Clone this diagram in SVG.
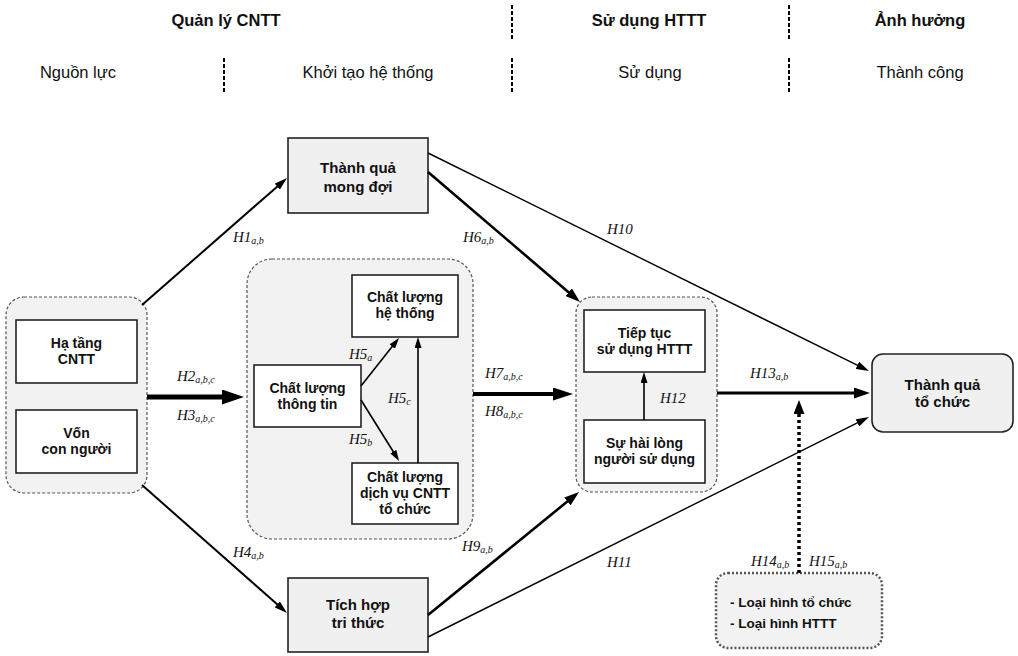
<svg xmlns="http://www.w3.org/2000/svg" width="1018" height="656" viewBox="0 0 1018 656">
<style>
.hd{font-family:"Liberation Sans",Arial,sans-serif;font-size:16.5px;font-weight:bold;fill:#111;text-anchor:middle}
.sh{font-family:"Liberation Sans",Arial,sans-serif;font-size:16.5px;fill:#111;text-anchor:middle}
.sep{stroke:#000;stroke-width:2;stroke-dasharray:4,2}
.grp{fill:#f2f2f2;stroke:#555;stroke-width:1.2;stroke-dasharray:3,2}
.box{fill:#fff;stroke:#222;stroke-width:1.6}
.gbox{fill:#f0f0f0;stroke:#222;stroke-width:1.6}
.nt{font-family:"Liberation Sans",Arial,sans-serif;font-size:14px;font-weight:bold;fill:#111;text-anchor:middle}
.bt{font-family:"Liberation Sans",Arial,sans-serif;font-size:15px;font-weight:bold;fill:#111;text-anchor:middle}
.lt{font-family:"Liberation Sans",Arial,sans-serif;font-size:13.5px;font-weight:bold;fill:#111}
.lb{font-family:"Liberation Serif","Times New Roman",serif;font-size:15px;font-style:italic;fill:#111}
.sub{font-size:10px}
.e{fill:none;stroke:#000}
</style>
<defs>
<marker id="a1" markerUnits="userSpaceOnUse" markerWidth="13" markerHeight="8" refX="1" refY="4" orient="auto"><path d="M0,0 L13,4 L0,8 z" fill="#000"/></marker>
<marker id="a2" markerUnits="userSpaceOnUse" markerWidth="15" markerHeight="10" refX="1" refY="5" orient="auto"><path d="M0,0 L15,5 L0,10 z" fill="#000"/></marker>
<marker id="a3" markerUnits="userSpaceOnUse" markerWidth="11" markerHeight="7" refX="1" refY="3.5" orient="auto"><path d="M0,0 L11,3.5 L0,7 z" fill="#000"/></marker>
<marker id="aT" markerUnits="userSpaceOnUse" markerWidth="22" markerHeight="15" refX="1" refY="7.5" orient="auto"><path d="M0,0 L22,7.5 L0,15 z" fill="#000"/></marker>
<marker id="aM" markerUnits="userSpaceOnUse" markerWidth="20" markerHeight="13" refX="1" refY="6.5" orient="auto"><path d="M0,0 L20,6.5 L0,13 z" fill="#000"/></marker>
<marker id="aH" markerUnits="userSpaceOnUse" markerWidth="16" markerHeight="11" refX="1" refY="5.5" orient="auto"><path d="M0,0 L16,5.5 L0,11 z" fill="#000"/></marker>
<marker id="aD" markerUnits="userSpaceOnUse" markerWidth="14" markerHeight="11" refX="1" refY="5.5" orient="auto"><path d="M0,0 L14,5.5 L0,11 z" fill="#000"/></marker>
</defs>

<g id="header">
<text class="hd" x="226" y="26">Quản lý CNTT</text>
<text class="hd" x="649" y="26">Sử dụng HTTT</text>
<text class="hd" x="920" y="26">Ảnh hưởng</text>
<text class="sh" x="78" y="78">Nguồn lực</text>
<text class="sh" x="368" y="78">Khởi tạo hệ thống</text>
<text class="sh" x="650" y="78">Sử dụng</text>
<text class="sh" x="920" y="78">Thành công</text>
<line class="sep" x1="512" y1="5" x2="512" y2="40"/>
<line class="sep" x1="789" y1="5" x2="789" y2="40"/>
<line class="sep" x1="224" y1="58" x2="224" y2="92"/>
<line class="sep" x1="512" y1="58" x2="512" y2="92"/>
<line class="sep" x1="789" y1="58" x2="789" y2="92"/>
</g>

<g id="group-nguon-luc">
<rect class="grp" x="6" y="297" width="141" height="196" rx="18"/>
</g>
<g id="group-khoi-tao">
<rect class="grp" x="247" y="259" width="226" height="280" rx="25"/>
</g>
<g id="group-su-dung">
<rect class="grp" x="576" y="297" width="141" height="195" rx="16"/>
</g>

<g id="node-ha-tang">
<rect class="box" x="16" y="320" width="121" height="63"/>
<text class="nt" x="76.5" y="348">Hạ tầng</text>
<text class="nt" x="76.5" y="364">CNTT</text>
</g>
<g id="node-von">
<rect class="box" x="16" y="410" width="121" height="63"/>
<text class="nt" x="76.5" y="438">Vốn</text>
<text class="nt" x="76.5" y="454">con người</text>
</g>
<g id="node-thanh-qua-mong-doi">
<rect class="gbox" x="288" y="138" width="140" height="75"/>
<text class="bt" x="358" y="173">Thành quả</text>
<text class="bt" x="358" y="192">mong đợi</text>
</g>
<g id="node-cl-he-thong">
<rect class="box" x="352" y="275" width="106" height="62"/>
<text class="nt" x="405" y="302">Chất lượng</text>
<text class="nt" x="405" y="318">hệ thống</text>
</g>
<g id="node-cl-thong-tin">
<rect class="box" x="254" y="365" width="107" height="62"/>
<text class="nt" x="307.5" y="393">Chất lượng</text>
<text class="nt" x="307.5" y="409">thông tin</text>
</g>
<g id="node-cl-dich-vu">
<rect class="box" x="352" y="463" width="106" height="61"/>
<text class="nt" x="405" y="482">Chất lượng</text>
<text class="nt" x="405" y="498">dịch vụ CNTT</text>
<text class="nt" x="405" y="514">tổ chức</text>
</g>
<g id="node-tiep-tuc">
<rect class="box" x="584" y="310" width="121" height="62"/>
<text class="nt" x="644.5" y="338">Tiếp tục</text>
<text class="nt" x="644.5" y="354">sử dụng HTTT</text>
</g>
<g id="node-hai-long">
<rect class="box" x="584" y="420" width="121" height="63"/>
<text class="nt" x="644.5" y="448">Sự hài lòng</text>
<text class="nt" x="644.5" y="464">người sử dụng</text>
</g>
<g id="node-tich-hop">
<rect class="gbox" x="288" y="578" width="140" height="74"/>
<text class="bt" x="358" y="610">Tích hợp</text>
<text class="bt" x="358" y="628">tri thức</text>
</g>
<g id="node-thanh-qua-to-chuc">
<rect class="gbox" x="872" y="354" width="141" height="78" rx="11"/>
<text class="bt" x="942.5" y="390">Thành quả</text>
<text class="bt" x="942.5" y="407">tổ chức</text>
</g>
<g id="node-loai-hinh">
<rect x="716" y="573" width="166" height="75" rx="12" fill="#f2f2f2" stroke="#555" stroke-width="2.5" stroke-dasharray="2,2"/>
<text class="lt" x="730" y="607">- Loại hình tổ chức</text>
<text class="lt" x="730" y="628">- Loại hình HTTT</text>
</g>

<g id="connectors">
<line class="e" stroke-width="2" x1="142" y1="305" x2="278" y2="185.9" marker-end="url(#a1)"/>
<line class="e" stroke-width="2" x1="142" y1="485" x2="278" y2="605.1" marker-end="url(#a1)"/>
<line class="e" stroke-width="1.4" x1="428" y1="153" x2="858.2" y2="365.7" marker-end="url(#a1)"/>
<line class="e" stroke-width="1.4" x1="428" y1="637" x2="858.3" y2="422.4" marker-end="url(#a1)"/>
<line class="e" stroke-width="2.6" x1="428" y1="172" x2="569.4" y2="292.9" marker-end="url(#a2)"/>
<line class="e" stroke-width="2.6" x1="428" y1="615" x2="568.2" y2="500.8" marker-end="url(#a2)"/>
<line class="e" stroke-width="1.6" x1="361" y1="386" x2="392.8" y2="345.8" marker-end="url(#a3)"/>
<line class="e" stroke-width="1.6" x1="361" y1="400" x2="393.8" y2="452.5" marker-end="url(#a3)"/>
<line class="e" stroke-width="1.6" x1="418" y1="463" x2="418" y2="347" marker-end="url(#a3)"/>
<line class="e" stroke-width="1.6" x1="644" y1="420" x2="644" y2="382" marker-end="url(#a3)"/>
<line class="e" stroke-width="5" x1="147" y1="397" x2="223" y2="397" marker-end="url(#aT)"/>
<line class="e" stroke-width="4" x1="473" y1="394" x2="554" y2="394" marker-end="url(#aM)"/>
<line class="e" stroke-width="3" x1="717" y1="393" x2="855" y2="393" marker-end="url(#aH)"/>
<line class="e" stroke-width="3.5" stroke-dasharray="3,3" x1="799" y1="573" x2="799" y2="413" marker-end="url(#aD)"/>
</g>

<g id="labels">
<text class="lb" x="233" y="242">H1<tspan class="sub" dy="2">a,b</tspan></text>
<text class="lb" x="177" y="381">H2<tspan class="sub" dy="2">a,b,c</tspan></text>
<text class="lb" x="177" y="420">H3<tspan class="sub" dy="2">a,b,c</tspan></text>
<text class="lb" x="233" y="557">H4<tspan class="sub" dy="2">a,b</tspan></text>
<text class="lb" x="349" y="359">H5<tspan class="sub" dy="2">a</tspan></text>
<text class="lb" x="349" y="444">H5<tspan class="sub" dy="2">b</tspan></text>
<text class="lb" x="388" y="403">H5<tspan class="sub" dy="2">c</tspan></text>
<text class="lb" x="463" y="242">H6<tspan class="sub" dy="2">a,b</tspan></text>
<text class="lb" x="485" y="378">H7<tspan class="sub" dy="2">a,b,c</tspan></text>
<text class="lb" x="485" y="416">H8<tspan class="sub" dy="2">a,b,c</tspan></text>
<text class="lb" x="462" y="551">H9<tspan class="sub" dy="2">a,b</tspan></text>
<text class="lb" x="607" y="234">H10</text>
<text class="lb" x="607" y="567">H11</text>
<text class="lb" x="660" y="403">H12</text>
<text class="lb" x="750" y="378">H13<tspan class="sub" dy="2">a,b</tspan></text>
<text class="lb" x="751" y="566">H14<tspan class="sub" dy="2">a,b</tspan></text>
<text class="lb" x="809" y="566">H15<tspan class="sub" dy="2">a,b</tspan></text>
</g>
</svg>
